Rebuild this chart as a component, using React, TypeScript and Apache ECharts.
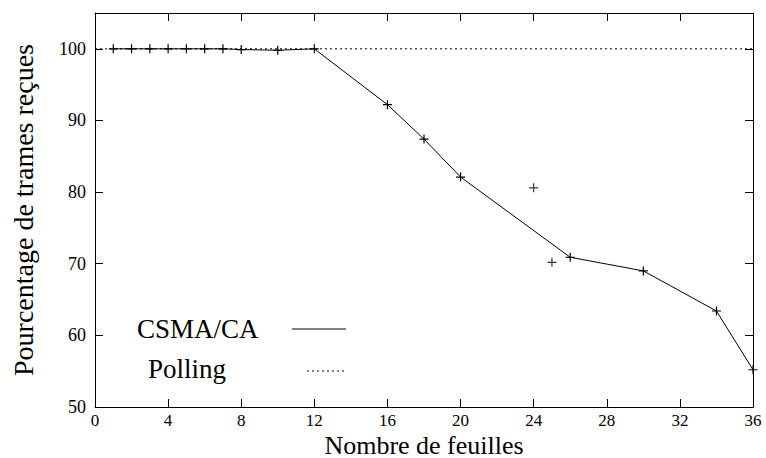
import React, { useEffect, useRef } from "react";
import * as echarts from "echarts";

const csmaX = [1, 2, 3, 4, 5, 6, 7, 8, 10, 12, 16, 18, 20, 26, 30, 34, 36];
const csmaY = [100, 100, 100, 100, 100, 100, 100, 99.9, 99.8, 100, 92.2, 87.4, 82.1, 70.9, 69.0, 63.4, 55.2];
const extraX = [24, 25];
const extraY = [80.6, 70.2];
const pollingX = [0, 36];
const pollingY = [100, 100];
const xTicks = [0, 4, 8, 12, 16, 20, 24, 28, 32, 36];
const yTicks = [50, 60, 70, 80, 90, 100];
const legendNames = ["CSMA/CA", "Polling"];

const FONT = "Liberation Serif";
const CROSS = "path://M0,5L10,5M5,0L5,10";

export default function App() {
  const ref = useRef<HTMLDivElement>(null);
  useEffect(() => {
    if (!ref.current) return;
    const chart = echarts.init(ref.current, null, { renderer: "svg" });
    const axisCommon = {
      type: "value" as const,
      axisLine: { show: true, onZero: false, lineStyle: { color: "#000", width: 1 } },
      axisTick: { show: true, inside: true, length: 8, lineStyle: { color: "#000" } },
      splitLine: { show: false },
    };
    const crossStyle = { color: "transparent", borderColor: "#000", borderWidth: 1.2 };
    chart.setOption({
      animation: false,
      backgroundColor: "#fff",
      textStyle: { fontFamily: FONT },
      grid: { left: 95, right: 13, top: 13, bottom: 51, containLabel: false, outerBoundsMode: "none" },
      xAxis: [
        {
          ...axisCommon,
          min: xTicks[0],
          max: xTicks[xTicks.length - 1],
          interval: 4,
          axisLabel: { color: "#000", fontFamily: FONT, fontSize: 17, margin: 5 },
          name: "Nombre de feuilles",
          nameLocation: "middle",
          nameGap: 25,
          nameMoveOverlap: false,
          nameTextStyle: { color: "#000", fontFamily: FONT, fontSize: 26 },
        },
        {
          ...axisCommon,
          position: "top",
          min: xTicks[0],
          max: xTicks[xTicks.length - 1],
          interval: 4,
          axisLabel: { show: false },
        },
      ],
      yAxis: [
        {
          ...axisCommon,
          min: 50,
          max: 105,
          interval: 10,
          axisLabel: {
            color: "#000",
            fontFamily: FONT,
            fontSize: 18,
            margin: 9,
            formatter: (v: number) => (yTicks.includes(v) ? String(v) : ""),
          },
          name: "Pourcentage de trames reçues",
          nameLocation: "middle",
          nameGap: 58,
          nameMoveOverlap: false,
          nameTextStyle: { color: "#000", fontFamily: FONT, fontSize: 28 },
        },
        {
          ...axisCommon,
          position: "right",
          min: 50,
          max: 105,
          interval: 10,
          axisLabel: { show: false },
        },
      ],
      series: [
        {
          name: legendNames[1],
          type: "line",
          data: pollingX.map((x, i) => [x, pollingY[i]]),
          showSymbol: false,
          symbol: "none",
          lineStyle: { color: "#000", width: 1, type: [2, 3] },
          z: 1,
        },
        {
          name: legendNames[0],
          type: "line",
          data: csmaX.map((x, i) => [x, csmaY[i]]),
          symbol: CROSS,
          symbolSize: 9,
          itemStyle: crossStyle,
          lineStyle: { color: "#000", width: 1 },
          z: 2,
        },
        {
          name: "extra",
          type: "scatter",
          data: extraX.map((x, i) => [x, extraY[i]]),
          symbol: CROSS,
          symbolSize: 9,
          itemStyle: crossStyle,
          z: 3,
        },
      ],
      graphic: [
        {
          type: "text",
          left: 137,
          top: 315,
          style: { text: legendNames[0], fontFamily: FONT, fontSize: 27, fill: "#000" },
        },
        {
          type: "line",
          shape: { x1: 292, y1: 329, x2: 346, y2: 329 },
          style: { stroke: "#000", lineWidth: 1 },
        },
        {
          type: "text",
          left: 148,
          top: 355,
          style: { text: legendNames[1], fontFamily: FONT, fontSize: 27, fill: "#000" },
        },
        {
          type: "line",
          shape: { x1: 307, y1: 371, x2: 344, y2: 371 },
          style: { stroke: "#000", lineWidth: 1, lineDash: [2, 3] },
        },
      ],
    });
    return () => chart.dispose();
  }, []);
  return <div ref={ref} style={{ width: 766, height: 458, position: "absolute", left: 0, top: 0 }} />;
}
